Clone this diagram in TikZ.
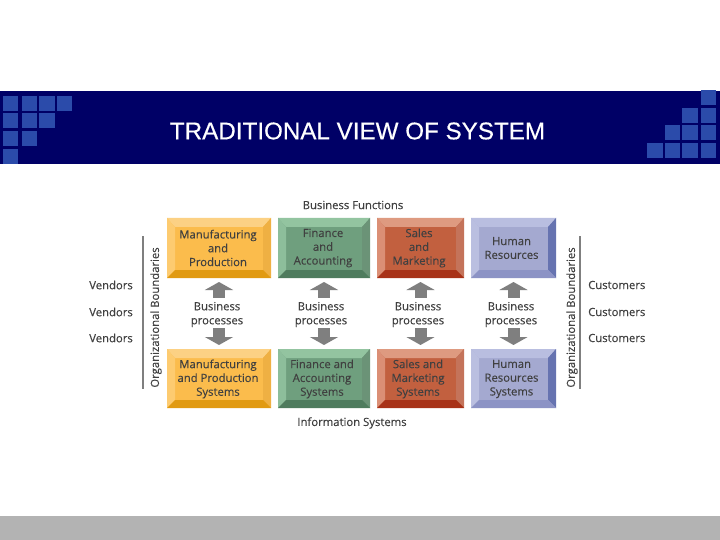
\documentclass[tikz,border=0pt]{standalone}
\usepackage{fontspec}
\setmainfont{Open Sans}[FakeBold=0.2]
\newfontfamily\titlefont{Liberation Sans}[FakeBold=0.4]
\usetikzlibrary{arrows.meta,calc}

% Colours:
\definecolor{navyband}{HTML}{000066}
\definecolor{bandsquare}{HTML}{2B4BAA}
\definecolor{footband}{HTML}{B3B3B3}
\definecolor{labeltext}{HTML}{404040}
\definecolor{arrowgrey}{HTML}{7F7F7F}
\definecolor{yellowface}{HTML}{FBBC4C}
\definecolor{yellowtop}{HTML}{FCD184}
\definecolor{yellowleft}{HTML}{FDCB70}
\definecolor{yellowright}{HTML}{EFB043}
\definecolor{yellowbottom}{HTML}{E19A12}
\definecolor{greenface}{HTML}{6F9F7E}
\definecolor{greentop}{HTML}{93C4A0}
\definecolor{greenleft}{HTML}{8DBE9B}
\definecolor{greenright}{HTML}{6B9377}
\definecolor{greenbottom}{HTML}{4F7C5E}
\definecolor{redface}{HTML}{C2603F}
\definecolor{redtop}{HTML}{DE9A80}
\definecolor{redleft}{HTML}{DB8F75}
\definecolor{redright}{HTML}{C4735A}
\definecolor{redbottom}{HTML}{A83218}
\definecolor{blueface}{HTML}{A4A9D0}
\definecolor{bluetop}{HTML}{B9BEE0}
\definecolor{blueleft}{HTML}{BABFE0}
\definecolor{blueright}{HTML}{6673B0}
\definecolor{bluebottom}{HTML}{8C93C5}

\begin{document}
\begin{tikzpicture}[x=1pt,y=-1pt]

    % Styles:
    \tikzstyle{square}=[fill=bandsquare, draw=none]
    \tikzstyle{func}=[inner sep=0pt, outer sep=0pt, text centered, text=labeltext,
    font=\fontsize{11.3}{13.8}\selectfont, align=center]
    \tikzstyle{caption}=[inner sep=0pt, text=labeltext, font=\fontsize{11.3}{14}\selectfont, align=center]
    \tikzstyle{bound}=[draw=arrowgrey, line width=1.4pt]
    \tikzstyle{blockline}=[draw=arrowgrey, line width=12pt,
    -{Triangle[width=28pt,length=8pt]}]

    \newcommand{\funcbox}[6]{node (#1) [func, fill=#6face, minimum width=#4, minimum height=#5] at (#2,#3) {}}

    % Bevel of a box: name, colour
    \newcommand{\bevel}[2]{%
    \path[fill=#2top] (#1.north west) -- (#1.north east) -- ($(#1.north east)+(-8,9)$) -- ($(#1.north west)+(8,9)$) -- cycle;
    \path[fill=#2left] (#1.north west) -- ($(#1.north west)+(8,9)$) -- ($(#1.south west)+(8,-8)$) -- (#1.south west) -- cycle;
    \path[fill=#2right] (#1.north east) -- ($(#1.north east)+(-8,9)$) -- ($(#1.south east)+(-8,-8)$) -- (#1.south east) -- cycle;
    \path[fill=#2bottom] (#1.south west) -- ($(#1.south west)+(8,-8)$) -- ($(#1.south east)+(-8,-8)$) -- (#1.south east) -- cycle;}

    % Background:
    \useasboundingbox (0,0) rectangle (720,540);
    \path[fill=white] (0,0) rectangle (720,540);
    \path[fill=navyband] (0,91) rectangle (720,164);
    \path[fill=footband] (0,516) rectangle (720,540);

    % Squares of the band:
    \foreach \xa/\xb/\ya/\yb in {3/18/96/111, 22/37/96/111, 39/55/96/111, 57/72/96/111,
        3/18/113/128, 22/37/113/128, 39/55/113/128,
        3/18/131/146, 22/37/131/146,
        3/18/149/164,
        701/716/90/105,
        682/698/108/123, 701/716/108/123,
        665/680/125/140, 682/698/125/140, 701/716/125/140,
        647/663/143/158, 665/680/143/158, 682/698/143/158, 701/716/143/158}
        \path[square] (\xa,\ya) rectangle (\xb,\yb);

    \node (title) [text=white, inner sep=0pt, font=\titlefont\fontsize{24.2}{26}\selectfont] at (357.5,131) {TRADITIONAL VIEW OF SYSTEM};

    % Boxes:
    \path \funcbox{f1}{219}{248}{104}{60}{yellow};
    \path \funcbox{f2}{324}{248}{92}{60}{green};
    \path \funcbox{f3}{420.5}{248}{87}{60}{red};
    \path \funcbox{f4}{513.5}{248}{85}{60}{blue};
    \path \funcbox{s1}{219}{378.5}{104}{59}{yellow};
    \path \funcbox{s2}{324}{378.5}{92}{59}{green};
    \path \funcbox{s3}{420.5}{378.5}{87}{59}{red};
    \path \funcbox{s4}{513.5}{378.5}{85}{59}{blue};

    \bevel{f1}{yellow}
    \bevel{f2}{green}
    \bevel{f3}{red}
    \bevel{f4}{blue}
    \bevel{s1}{yellow}
    \bevel{s2}{green}
    \bevel{s3}{red}
    \bevel{s4}{blue}

    % Box texts:
    \node (tf1) [func] at (218,248) {Manufacturing\\and\\Production};
    \node (tf2) [func] at (323,248) {Finance\\and\\Accounting};
    \node (tf3) [func] at (419,248) {Sales\\and\\Marketing};
    \node (tf4) [func] at (511.5,248) {Human\\Resources};
    \node (ts1) [func] at (218,379) {Manufacturing\\and Production\\Systems};
    \node (ts2) [func] at (322,379) {Finance and\\Accounting\\Systems};
    \node (ts3) [func] at (418,379) {Sales and\\Marketing\\Systems};
    \node (ts4) [func] at (511.5,379) {Human\\Resources\\Systems};

    % Middle labels:
    \node (p1) [caption] at (217,314.5) {Business\\processes};
    \node (p2) [caption] at (321,314.5) {Business\\processes};
    \node (p3) [caption] at (418,314.5) {Business\\processes};
    \node (p4) [caption] at (511,314.5) {Business\\processes};

    \node (head) [caption] at (353,205) {Business Functions};
    \node (foot) [caption] at (352,423) {Information Systems};

    \node (v1) [caption, anchor=east] at (133,285) {Vendors};
    \node (v2) [caption, anchor=east] at (133,312) {Vendors};
    \node (v3) [caption, anchor=east] at (133,338) {Vendors};
    \node (c1) [caption, anchor=west] at (588,285) {Customers};
    \node (c2) [caption, anchor=west] at (588,312) {Customers};
    \node (c3) [caption, anchor=west] at (588,338) {Customers};

    \node (ol) [caption, rotate=90] at (156,317.5) {Organizational Boundaries};
    \node (or) [caption, rotate=90] at (572,317.5) {Organizational Boundaries};

    % Boundary lines:
    \coordinate (la) at (143,236);
    \coordinate (lb) at (143,389);
    \coordinate (ra) at (580,236);
    \coordinate (rb) at (580,389);
    \path [bound] (la) -- (lb);
    \path [bound] (ra) -- (rb);

    % Arrows:
    \foreach \i in {1,2,3,4} {
        \path [blockline, shorten <=4pt, shorten >=4pt] (f\i.south |- p\i.north) -- (f\i.south);
        \path [blockline, shorten <=1pt, shorten >=4pt] (s\i.north |- p\i.south) -- (s\i.north);
    }
\end{tikzpicture}
\end{document}
